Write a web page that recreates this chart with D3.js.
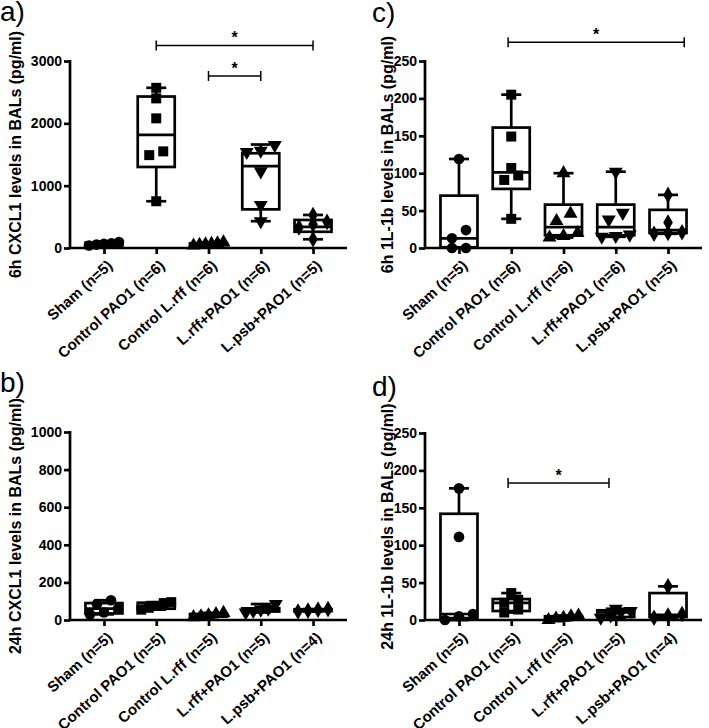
<!DOCTYPE html>
<html>
<head>
<meta charset="utf-8">
<script src="https://cdn.jsdelivr.net/npm/d3@7/dist/d3.min.js"></script>
<style>
  html, body { margin: 0; padding: 0; background: #fff; }
  svg { display: block; font-family: Arial, "Liberation Sans", sans-serif; }
  svg text { font-family: Arial, "Liberation Sans", sans-serif; fill: #000; }
</style>
</head>
<body>
<svg id="chart" width="709" height="728"></svg>
<script>
// ---------- DATA ----------
const categories6h  = ["Sham (n=5)", "Control PAO1 (n=6)", "Control L.rff (n=6)", "L.rff+PAO1 (n=6)", "L.psb+PAO1 (n=5)"];
const categories24h = ["Sham (n=5)", "Control PAO1 (n=5)", "Control L.rff (n=5)", "L.rff+PAO1 (n=5)", "L.psb+PAO1 (n=4)"];

const ticksCXCL1_6h  = [0, 1000, 2000, 3000];
const ticksCXCL1_24h = [0, 200, 400, 600, 800, 1000];
const ticksIL1b      = [0, 50, 100, 150, 200, 250];

// box stats per group: [min, q1, median, q3, max]
const boxA = [[30, 40, 60, 85, 100], [750, 1300, 1815, 2430, 2570], [40, 50, 60, 75, 90], [430, 620, 1315, 1520, 1660], [140, 260, 340, 450, 530]];
const ptsA = [[40, 55, 65, 75, 95], [750, 1490, 1550, 2080, 2400, 2570], [40, 50, 60, 65, 75, 90], [430, 690, 1230, 1540, 1560, 1650], [140, 330, 380, 420, 530]];

const boxB = [[30, 35, 60, 90, 105], [55, 60, 75, 92, 95], [15, 18, 25, 32, 38], [40, 45, 55, 62, 85], [45, 47, 52, 57, 58]];
const ptsB = [[30, 40, 60, 85, 105], [55, 65, 75, 90, 95], [15, 20, 25, 32, 38], [40, 48, 55, 60, 85], [45, 50, 55, 58]];

const boxC = [[0, 1, 13, 70, 119], [39, 79, 101, 161, 205], [14, 17, 28, 58, 100], [15, 17, 28, 58, 102], [19, 20, 24, 51, 71]];
const ptsC = [[0, 0, 13, 24, 119], [39, 91, 97, 107, 149, 205], [14, 16, 20, 36, 46, 100], [15, 16, 18, 38, 47, 102], [19, 20, 21, 34, 71]];

const boxD = [[0, 2.5, 8, 142, 176], [10, 12, 23, 28, 36], [0, 1, 3, 5, 6], [3, 4, 10, 13, 15], [3, 4, 7, 36, 45]];
const ptsD = [[0, 5, 8, 111, 176], [10, 14, 23, 27, 36], [0, 2, 3, 5, 6], [3, 6, 10, 12, 15], [3, 6, 8, 45]];

// significance brackets: [fromIndex, toIndex, value]
const sigA = [[1, 4, 3250], [2, 3, 2760]];
const sigB = [];
const sigC = [[0.94, 4.31, 275]];
const sigD = [[0.94, 2.87, 183]];

const titleA = "6h CXCL1 levels in BALs (pg/ml)";
const titleB = "24h CXCL1 levels in BALs (pg/ml)";
const titleC = "6h 1L-1b levels in BALs (pg/ml)";
const titleD = "24h 1L-1b levels in BALs (pg/ml)";

// ---------- LAYOUT ----------
const svg = d3.select("#chart");
const panels = [
  {label: "a)", lx: 0, ly: 21, cats: categories6h, ticks: ticksCXCL1_6h, max: 3000, box: boxA, pts: ptsA, sig: sigA, title: titleA,
   x0: 70, top: 61, bottom: 248, titleX: 15},
  {label: "b)", lx: 0, ly: 392, cats: categories24h, ticks: ticksCXCL1_24h, max: 1000, box: boxB, pts: ptsB, sig: sigB, title: titleB,
   x0: 70, top: 432, bottom: 620, titleX: 15},
  {label: "c)", lx: 372, ly: 22, cats: categories6h, ticks: ticksIL1b, max: 250, box: boxC, pts: ptsC, sig: sigC, title: titleC,
   x0: 425, top: 61, bottom: 248, titleX: 387},
  {label: "d)", lx: 372, ly: 396, cats: categories24h, ticks: ticksIL1b, max: 250, box: boxD, pts: ptsD, sig: sigD, title: titleD,
   x0: 425, top: 433, bottom: 620, titleX: 387}
];

const symbolFor = [d3.symbolCircle, d3.symbolSquare, d3.symbolTriangle, d3.symbolTriangle, d3.symbolDiamond];
const symbolSize = [90, 100, 85, 85, 80];
const symbolRot = [0, 0, 0, 180, 0];
const LW = 2.7;
const boxW = 37, capW = 20;

function boldText(sel, size) {
  sel.style("font-size", size + "px").style("font-weight", "bold")
     .style("font-family", "Arial, 'Liberation Sans', sans-serif").style("fill", "#000");
}

panels.forEach(p => {
  const g = svg.append("g");
  const x = d3.scalePoint().domain(p.cats).range([p.x0, p.x0 + 277]).padding(0.65);
  const y = d3.scaleLinear().domain([0, p.max]).range([p.bottom, p.top]);
  const step = x.step();
  const xi = i => x(p.cats[0]) + i * step;

  // panel label
  svg.append("text").attr("x", p.lx).attr("y", p.ly)
    .style("font-size", "28px").style("font-family", "Arial, 'Liberation Sans', sans-serif").text(p.label);

  // y axis
  const ya = g.append("g").attr("transform", `translate(${p.x0},0)`)
    .call(d3.axisLeft(y).tickValues(p.ticks).tickFormat(d3.format("d")).tickSize(6).tickPadding(2).tickSizeOuter(0));
  ya.select(".domain").attr("stroke-width", LW).attr("d", `M0,${p.top - 1}V${p.bottom}`);
  ya.selectAll(".tick line").attr("stroke-width", LW);
  boldText(ya.selectAll(".tick text"), 14);

  // x axis
  const xa = g.append("g").attr("transform", `translate(0,${p.bottom})`)
    .call(d3.axisBottom(x).tickSize(6).tickSizeOuter(0).tickFormat(""));
  xa.select(".domain").attr("stroke-width", LW).attr("d", `M${p.x0 - 1},0H${p.x0 + 277}`);
  xa.selectAll(".tick line").attr("stroke-width", LW);

  // x labels
  const xl = g.selectAll(".xl").data(p.cats).enter().append("text")
    .attr("transform", d => `translate(${x(d) + 6},${p.bottom + 15}) rotate(-42)`)
    .attr("text-anchor", "end").attr("dy", "0.35em").text(d => d);
  boldText(xl, 15);

  // y title
  const yt = g.append("text")
    .attr("transform", `translate(${p.titleX},${(p.top + p.bottom) / 2}) rotate(-90)`)
    .attr("text-anchor", "middle").attr("dy", "0.35em").text(p.title);
  boldText(yt, 16);

  // boxes
  p.box.forEach((b, i) => {
    const cx = x(p.cats[i]);
    const [mn, q1, md, q3, mx] = b;
    const bg = g.append("g");
    bg.append("line").attr("x1", cx).attr("x2", cx).attr("y1", y(mx)).attr("y2", y(q3)).attr("stroke", "#000").attr("stroke-width", LW);
    bg.append("line").attr("x1", cx).attr("x2", cx).attr("y1", y(q1)).attr("y2", y(mn)).attr("stroke", "#000").attr("stroke-width", LW);
    bg.append("line").attr("x1", cx - capW / 2).attr("x2", cx + capW / 2).attr("y1", y(mx)).attr("y2", y(mx)).attr("stroke", "#000").attr("stroke-width", LW);
    bg.append("line").attr("x1", cx - capW / 2).attr("x2", cx + capW / 2).attr("y1", y(mn)).attr("y2", y(mn)).attr("stroke", "#000").attr("stroke-width", LW);
    bg.append("rect").attr("x", cx - boxW / 2).attr("y", y(q3)).attr("width", boxW).attr("height", Math.max(0.5, y(q1) - y(q3)))
      .attr("fill", "#fff").attr("stroke", "#000").attr("stroke-width", LW);
    bg.append("line").attr("x1", cx - boxW / 2).attr("x2", cx + boxW / 2).attr("y1", y(md)).attr("y2", y(md)).attr("stroke", "#000").attr("stroke-width", LW);
  });

  // points (horizontal spreading of overlapping points)
  p.pts.forEach((vals, i) => {
    const cx = x(p.cats[i]);
    const sorted = vals.slice().sort((a, b) => a - b);
    const groups = [];
    sorted.forEach(v => {
      const last = groups[groups.length - 1];
      if (last && Math.abs(y(last[0]) - y(v)) < 8.5) last.push(v); else groups.push([v]);
    });
    groups.forEach(grp => {
      const sp = grp.length > 1 ? Math.min(14, 30 / (grp.length - 1)) : 0;
      grp.forEach((v, k) => {
        const off = (k - (grp.length - 1) / 2) * sp;
        g.append("path")
          .attr("d", d3.symbol().type(symbolFor[i]).size(symbolSize[i])())
          .attr("transform", `translate(${cx + off},${y(v)}) rotate(${symbolRot[i]})`)
          .attr("fill", "#000");
      });
    });
  });

  // significance brackets
  p.sig.forEach(s => {
    const x1 = xi(s[0]), x2 = xi(s[1]), yy = y(s[2]);
    g.append("line").attr("x1", x1).attr("x2", x2).attr("y1", yy).attr("y2", yy).attr("stroke", "#000").attr("stroke-width", 1.5);
    g.append("line").attr("x1", x1).attr("x2", x1).attr("y1", yy - 5).attr("y2", yy + 5).attr("stroke", "#000").attr("stroke-width", 1.5);
    g.append("line").attr("x1", x2).attr("x2", x2).attr("y1", yy - 5).attr("y2", yy + 5).attr("stroke", "#000").attr("stroke-width", 1.5);
    const st = g.append("text").attr("x", (x1 + x2) / 2).attr("y", yy - 2).attr("text-anchor", "middle").text("*");
    boldText(st, 16);
  });
});
</script>
</body>
</html>
